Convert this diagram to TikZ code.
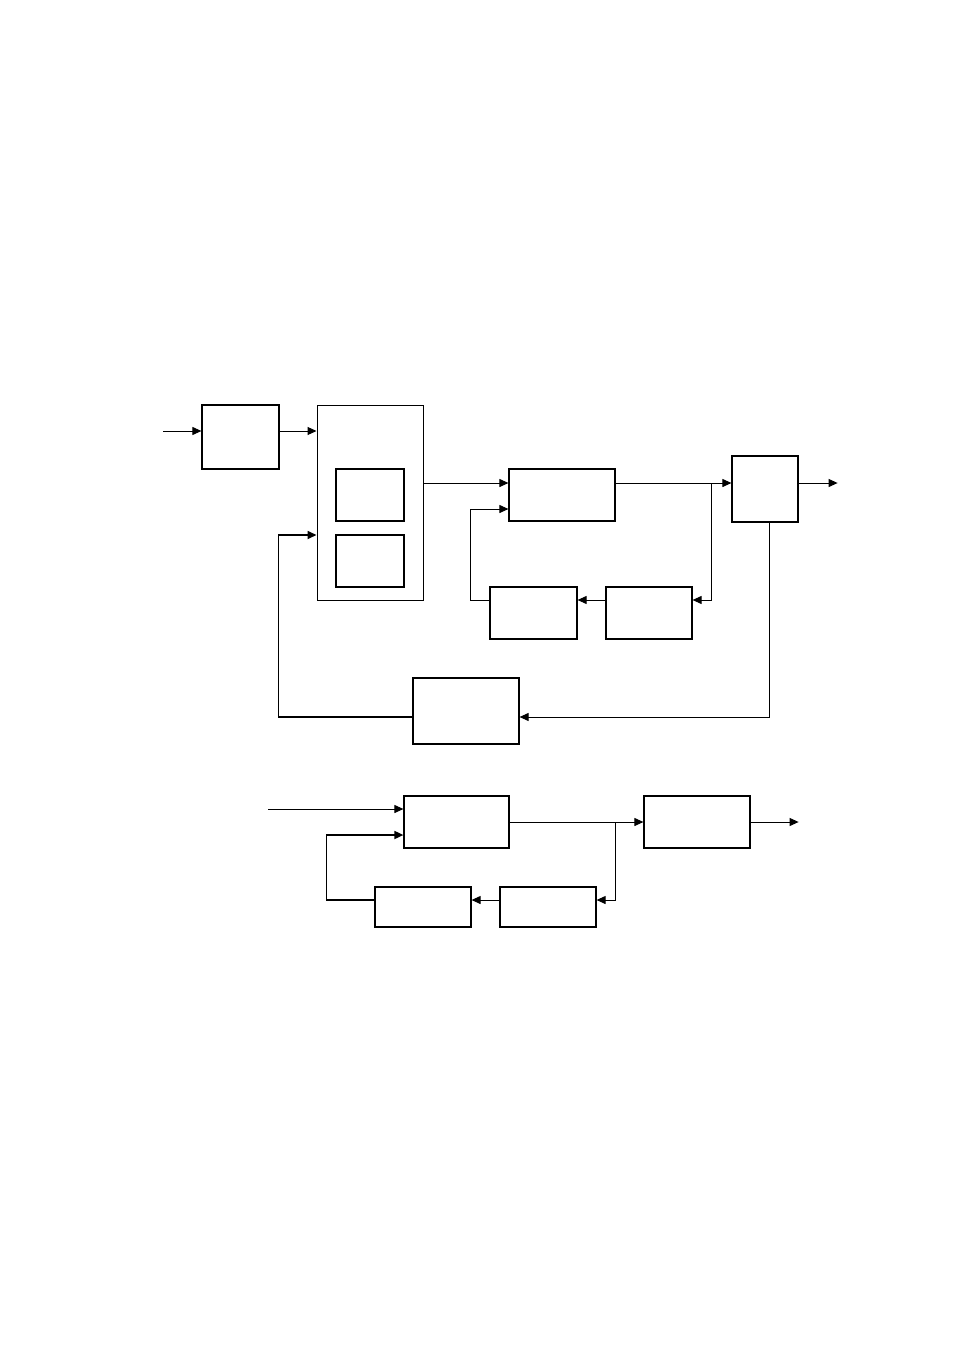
\documentclass[tikz,border=0pt]{standalone}
\usetikzlibrary{arrows.meta}
\begin{document}
\begin{tikzpicture}[x=1pt,y=-1pt,
  box/.style={draw,line width=1.2pt,inner sep=0pt,fill=white},
  arr/.style={line width=1pt,-{Triangle[length=9pt,width=8pt]}},
  ln/.style={line width=1pt},
  thk/.style={line width=1.7pt}]
\fill[white] (0,0) rectangle (954,1351);
\useasboundingbox (0,0) rectangle (954,1351);
% upper diagram
\node[box,minimum width=77pt,minimum height=64pt] (A) at (240.5,437) {};
\node[box,line width=1pt,minimum width=106pt,minimum height=195pt] (B) at (370,502.5) {};
\node[box,line width=1.6pt,minimum width=68pt,minimum height=52pt] (B1) at (370,495) {};
\node[box,line width=1.6pt,minimum width=68pt,minimum height=52pt] (B2) at (370,561) {};
\node[box,minimum width=106pt,minimum height=52pt] (C) at (562,495) {};
\node[box,minimum width=66pt,minimum height=66pt] (D) at (765,489) {};
\node[box,minimum width=86pt,minimum height=52pt] (E) at (649,613) {};
\node[box,minimum width=87pt,minimum height=52pt] (F) at (533.5,613) {};
\node[box,minimum width=106pt,minimum height=66pt] (G) at (466,711) {};
% lower diagram
\node[box,minimum width=105pt,minimum height=52pt] (H) at (456.5,822) {};
\node[box,minimum width=106pt,minimum height=52pt] (I) at (697,822) {};
\node[box,minimum width=96pt,minimum height=40pt] (J) at (548,907) {};
\node[box,minimum width=96pt,minimum height=40pt] (K) at (423,907) {};
% row coordinates
\coordinate (in1) at (163,431);
\coordinate (r1) at (0,483);
\coordinate (r2) at (0,600);
\coordinate (r3) at (0,509);
\coordinate (r4) at (0,717);
\coordinate (r5) at (0,535);
\coordinate (br1) at (711,483);
\coordinate (in2) at (268,809);
\coordinate (r6) at (0,822);
\coordinate (r7) at (0,900);
\coordinate (r8) at (0,835);
\coordinate (br2) at (615,822);
% upper connectors
\draw[arr] (in1) -- (in1 -| A.west);
\draw[arr] (A.east |- in1) -- (B.west |- in1);
\draw[arr] (B.east |- r1) -- (C.west |- r1);
\draw[arr] (C.east |- r1) -- (D.west |- r1);
\draw[arr] (br1) |- (E.east |- r2);
\draw[arr] (E.west |- r2) -- (F.east |- r2);
\draw[arr] (F.west |- r2) -- ++(-19,0) |- (C.west |- r3);
\draw[arr] (D.east |- r1) -- ++(39,0);
\draw[arr] ([xshift=4pt]D.south) |- (G.east |- r4);
\draw[thk,-{Triangle[length=9pt,width=8pt]}] (G.west |- r4) -- ++(-134,0) |- (B.west |- r5);
% lower connectors
\draw[arr] (in2) -- (in2 -| H.west);
\draw[arr] (H.east |- r6) -- (I.west |- r6);
\draw[arr] (br2) |- (J.east |- r7);
\draw[arr] (J.west |- r7) -- (K.east |- r7);
\draw[thk,-{Triangle[length=9pt,width=8pt]}] (K.west |- r7) -- ++(-48,0) |- (H.west |- r8);
\draw[arr] (I.east |- r6) -- ++(48,0);
\end{tikzpicture}
\end{document}
